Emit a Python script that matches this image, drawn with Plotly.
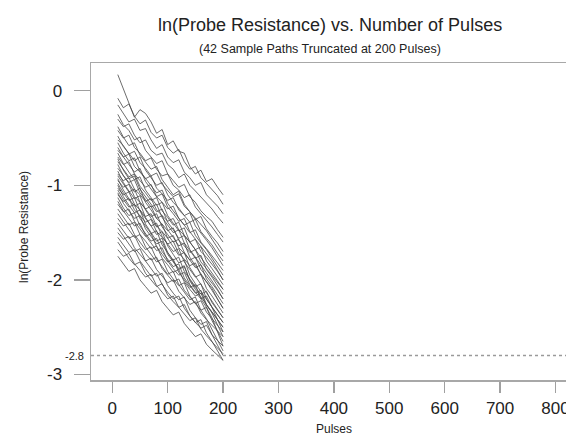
import plotly.graph_objects as go

pulses = [10, 20, 30, 40, 50, 60, 70, 80, 90, 100, 110, 120, 130, 140, 150, 160, 170, 180, 190, 200]

paths = [
    [0.17, 0.02, -0.12, -0.28, -0.20, -0.24, -0.33, -0.45, -0.41, -0.57, -0.53, -0.64, -0.66, -0.80, -0.88, -0.84, -0.96, -0.93, -1.02, -1.10],
    [-0.08, -0.18, -0.14, -0.27, -0.35, -0.31, -0.44, -0.50, -0.47, -0.60, -0.66, -0.62, -0.75, -0.83, -0.80, -0.92, -0.98, -1.05, -1.11, -1.20],
    [-0.15, -0.24, -0.33, -0.30, -0.42, -0.40, -0.52, -0.61, -0.57, -0.70, -0.76, -0.73, -0.86, -0.92, -1.00, -0.97, -1.10, -1.16, -1.22, -1.30],
    [-0.25, -0.36, -0.42, -0.52, -0.49, -0.63, -0.70, -0.77, -0.74, -0.88, -0.95, -1.02, -0.99, -1.12, -1.18, -1.27, -1.33, -1.38, -1.47, -1.55],
    [-0.30, -0.38, -0.35, -0.47, -0.55, -0.52, -0.63, -0.68, -0.66, -0.78, -0.83, -0.92, -0.88, -1.00, -1.06, -1.12, -1.18, -1.25, -1.33, -1.40],
    [-0.38, -0.49, -0.58, -0.55, -0.68, -0.76, -0.83, -0.80, -0.94, -1.02, -1.10, -1.06, -1.20, -1.28, -1.35, -1.42, -1.48, -1.57, -1.66, -1.75],
    [-0.42, -0.50, -0.47, -0.60, -0.66, -0.74, -0.71, -0.83, -0.90, -0.88, -1.00, -1.05, -1.13, -1.10, -1.23, -1.30, -1.36, -1.44, -1.52, -1.60],
    [-0.48, -0.59, -0.66, -0.74, -0.70, -0.84, -0.92, -1.00, -0.97, -1.10, -1.18, -1.24, -1.32, -1.29, -1.43, -1.50, -1.58, -1.66, -1.75, -1.85],
    [-0.52, -0.58, -0.67, -0.64, -0.76, -0.82, -0.90, -0.87, -0.99, -1.05, -1.12, -1.09, -1.22, -1.28, -1.36, -1.33, -1.46, -1.54, -1.61, -1.70],
    [-0.55, -0.66, -0.74, -0.71, -0.85, -0.93, -1.01, -1.08, -1.05, -1.19, -1.27, -1.34, -1.42, -1.39, -1.53, -1.61, -1.68, -1.77, -1.86, -1.95],
    [-0.60, -0.70, -0.78, -0.86, -0.82, -0.96, -1.04, -1.12, -1.09, -1.23, -1.30, -1.38, -1.35, -1.49, -1.57, -1.65, -1.73, -1.80, -1.90, -2.00],
    [-0.63, -0.70, -0.67, -0.80, -0.86, -0.93, -0.90, -1.03, -1.09, -1.16, -1.13, -1.26, -1.32, -1.39, -1.36, -1.49, -1.56, -1.63, -1.72, -1.80],
    [-0.66, -0.77, -0.86, -0.94, -0.91, -1.05, -1.13, -1.21, -1.18, -1.32, -1.40, -1.48, -1.45, -1.60, -1.68, -1.76, -1.84, -1.92, -2.01, -2.10],
    [-0.70, -0.78, -0.75, -0.88, -0.95, -1.02, -0.99, -1.12, -1.18, -1.25, -1.22, -1.35, -1.42, -1.50, -1.47, -1.60, -1.67, -1.74, -1.82, -1.90],
    [-0.72, -0.84, -0.93, -0.90, -1.04, -1.12, -1.20, -1.28, -1.25, -1.39, -1.47, -1.56, -1.53, -1.68, -1.76, -1.84, -1.93, -2.01, -2.10, -2.20],
    [-0.75, -0.83, -0.91, -0.88, -1.01, -1.08, -1.16, -1.13, -1.27, -1.34, -1.42, -1.39, -1.53, -1.60, -1.68, -1.65, -1.80, -1.88, -1.96, -2.05],
    [-0.78, -0.90, -0.98, -1.07, -1.03, -1.18, -1.26, -1.35, -1.32, -1.47, -1.55, -1.64, -1.61, -1.76, -1.85, -1.93, -2.02, -2.11, -2.20, -2.30],
    [-0.82, -0.89, -0.97, -0.94, -1.08, -1.15, -1.23, -1.20, -1.34, -1.42, -1.50, -1.47, -1.61, -1.69, -1.77, -1.74, -1.89, -1.97, -2.06, -2.15],
    [-0.85, -0.97, -1.06, -1.14, -1.11, -1.26, -1.35, -1.44, -1.41, -1.56, -1.65, -1.74, -1.71, -1.87, -1.96, -2.05, -2.13, -2.22, -2.31, -2.40],
    [-0.88, -0.95, -0.92, -1.04, -1.10, -1.17, -1.14, -1.26, -1.32, -1.38, -1.35, -1.47, -1.53, -1.60, -1.57, -1.70, -1.76, -1.83, -1.91, -2.00],
    [-0.90, -0.99, -1.07, -1.04, -1.18, -1.25, -1.33, -1.30, -1.44, -1.52, -1.60, -1.57, -1.71, -1.79, -1.87, -1.84, -1.99, -2.07, -2.16, -2.25],
    [-0.93, -1.05, -1.14, -1.22, -1.19, -1.34, -1.43, -1.52, -1.49, -1.64, -1.73, -1.82, -1.79, -1.95, -2.04, -2.12, -2.20, -2.28, -2.37, -2.45],
    [-0.95, -1.02, -0.99, -1.12, -1.18, -1.25, -1.22, -1.35, -1.41, -1.48, -1.45, -1.58, -1.64, -1.71, -1.68, -1.81, -1.88, -1.95, -2.02, -2.10],
    [-0.98, -1.08, -1.16, -1.13, -1.27, -1.35, -1.43, -1.40, -1.54, -1.62, -1.70, -1.67, -1.81, -1.89, -1.97, -1.94, -2.09, -2.17, -2.26, -2.35],
    [-1.00, -1.12, -1.21, -1.29, -1.26, -1.41, -1.50, -1.59, -1.56, -1.71, -1.80, -1.88, -1.85, -2.01, -2.10, -2.18, -2.26, -2.34, -2.42, -2.50],
    [-1.03, -1.10, -1.07, -1.20, -1.26, -1.33, -1.30, -1.43, -1.49, -1.56, -1.53, -1.66, -1.72, -1.79, -1.76, -1.89, -1.96, -2.03, -2.11, -2.20],
    [-1.05, -1.15, -1.23, -1.20, -1.35, -1.43, -1.51, -1.48, -1.63, -1.71, -1.79, -1.76, -1.91, -1.99, -2.07, -2.04, -2.20, -2.29, -2.42, -2.55],
    [-1.08, -1.19, -1.27, -1.35, -1.32, -1.46, -1.54, -1.62, -1.59, -1.73, -1.81, -1.89, -1.86, -2.00, -2.08, -2.15, -2.12, -2.24, -2.32, -2.40],
    [-1.10, -1.17, -1.14, -1.26, -1.32, -1.39, -1.36, -1.49, -1.55, -1.62, -1.59, -1.72, -1.78, -1.85, -1.82, -1.95, -2.02, -2.09, -2.20, -2.30],
    [-1.13, -1.24, -1.32, -1.29, -1.43, -1.51, -1.59, -1.56, -1.70, -1.78, -1.86, -1.83, -1.98, -2.06, -2.14, -2.11, -2.26, -2.35, -2.47, -2.60],
    [-1.17, -1.27, -1.35, -1.43, -1.40, -1.53, -1.61, -1.69, -1.66, -1.80, -1.88, -1.95, -1.92, -2.05, -2.13, -2.20, -2.17, -2.29, -2.37, -2.45],
    [-1.20, -1.28, -1.25, -1.38, -1.46, -1.54, -1.51, -1.65, -1.73, -1.81, -1.78, -1.92, -2.00, -2.08, -2.05, -2.20, -2.29, -2.40, -2.55, -2.70],
    [-1.25, -1.34, -1.42, -1.39, -1.52, -1.59, -1.67, -1.64, -1.77, -1.84, -1.92, -1.89, -2.02, -2.10, -2.17, -2.14, -2.27, -2.34, -2.42, -2.50],
    [-1.30, -1.39, -1.47, -1.55, -1.52, -1.65, -1.73, -1.81, -1.78, -1.91, -1.99, -2.06, -2.03, -2.17, -2.25, -2.32, -2.29, -2.43, -2.54, -2.65],
    [-1.35, -1.43, -1.40, -1.52, -1.60, -1.68, -1.65, -1.78, -1.86, -1.94, -1.91, -2.05, -2.13, -2.21, -2.18, -2.32, -2.41, -2.52, -2.63, -2.75],
    [-1.40, -1.48, -1.56, -1.53, -1.65, -1.72, -1.79, -1.76, -1.88, -1.95, -2.02, -1.99, -2.11, -2.18, -2.25, -2.22, -2.34, -2.41, -2.48, -2.55],
    [-1.45, -1.54, -1.62, -1.70, -1.67, -1.80, -1.88, -1.96, -1.93, -2.06, -2.14, -2.21, -2.18, -2.32, -2.40, -2.47, -2.44, -2.58, -2.69, -2.80],
    [-1.50, -1.57, -1.54, -1.66, -1.73, -1.80, -1.77, -1.89, -1.96, -2.03, -2.00, -2.12, -2.19, -2.26, -2.23, -2.35, -2.42, -2.48, -2.54, -2.60],
    [-1.55, -1.63, -1.71, -1.68, -1.80, -1.88, -1.96, -1.93, -2.05, -2.13, -2.20, -2.17, -2.30, -2.38, -2.45, -2.42, -2.56, -2.65, -2.75, -2.85],
    [-1.60, -1.69, -1.77, -1.84, -1.81, -1.93, -2.00, -2.07, -2.04, -2.16, -2.23, -2.29, -2.26, -2.38, -2.45, -2.51, -2.48, -2.58, -2.64, -2.70],
    [-1.68, -1.75, -1.72, -1.83, -1.90, -1.97, -1.94, -2.06, -2.13, -2.20, -2.17, -2.29, -2.36, -2.43, -2.40, -2.52, -2.59, -2.66, -2.72, -2.78],
    [-1.75, -1.83, -1.91, -1.88, -2.00, -2.07, -2.14, -2.11, -2.23, -2.30, -2.37, -2.34, -2.46, -2.53, -2.60, -2.57, -2.68, -2.74, -2.80, -2.85],
]

x_ticks = [0, 100, 200, 300, 400, 500, 600, 700, 800]
y_ticks = [0, -1, -2, -3]
threshold = -2.8

title_text = "ln(Probe Resistance) vs. Number of Pulses"
subtitle_text = "(42 Sample Paths Truncated at 200 Pulses)"
x_title = "Pulses"
y_title = "ln(Probe Resistance)"

FONT = "Liberation Sans, Arial, Helvetica, sans-serif"

fig = go.Figure()
for p in paths:
    fig.add_trace(go.Scatter(x=pulses, y=p, mode="lines",
                             line=dict(color="#484848", width=0.8),
                             showlegend=False, hoverinfo="skip"))

fig.add_shape(type="line", xref="paper", yref="y", x0=0, x1=1,
              y0=threshold, y1=threshold,
              line=dict(color="#9a9a9a", width=1.5, dash="dot"))

fig.update_layout(
    width=566, height=434,
    margin=dict(l=91, r=0, t=63, b=54, autoexpand=False),
    paper_bgcolor="white", plot_bgcolor="white",
    font=dict(family=FONT, color="#222222"),
    showlegend=False,
    xaxis=dict(range=[-38.4, 819], tickvals=x_ticks,
               ticktext=[str(v) for v in x_ticks],
               showgrid=False, zeroline=False, automargin=False,
               showline=True, linecolor="#a8a8a8", linewidth=1.5, mirror=True,
               ticks="outside", ticklen=11, tickwidth=1.5, tickcolor="#a0a0a0",
               tickfont=dict(size=17, color="#222222"),
               ticklabelstandoff=1, ticklabeloverflow="allow"),
    yaxis=dict(range=[-3.058, 0.293], tickvals=y_ticks,
               ticktext=[str(v) for v in y_ticks],
               showgrid=False, zeroline=False, automargin=False,
               showline=True, linecolor="#a8a8a8", linewidth=1.5, mirror=False,
               ticks="outside", ticklen=16, tickwidth=1.5, tickcolor="#a0a0a0",
               tickfont=dict(size=17, color="#222222"),
               ticklabelstandoff=8, ticklabeloverflow="allow"),
)

fig.add_annotation(text=title_text, xref="paper", yref="paper",
                   x=(330 - 91) / 475, y=1 + (63 - 25) / 317,
                   xanchor="center", yanchor="middle", showarrow=False,
                   font=dict(size=18, family=FONT, color="#222222"))
fig.add_annotation(text=subtitle_text, xref="paper", yref="paper",
                   x=(320 - 91) / 475, y=1 + (63 - 49) / 317,
                   xanchor="center", yanchor="middle", showarrow=False,
                   font=dict(size=12.5, family=FONT, color="#222222"))
fig.add_annotation(text=y_title, xref="paper", yref="paper",
                   x=-(91 - 24) / 475, y=1 - (227 - 63) / 317,
                   xanchor="center", yanchor="middle", textangle=-90,
                   showarrow=False,
                   font=dict(size=12, family=FONT, color="#222222"))
fig.add_annotation(text=x_title, xref="x", yref="paper",
                   x=400, y=-(420 - 380) / 317,
                   xanchor="center", yanchor="top", showarrow=False,
                   font=dict(size=12, family=FONT, color="#222222"))
fig.add_annotation(text=str(threshold), xref="paper", yref="y",
                   x=0, y=threshold, xanchor="right", yanchor="middle",
                   xshift=-5, showarrow=False,
                   font=dict(size=11, family=FONT, color="#222222"))

fig.write_html(
    "out.html",
    config={"displayModeBar": False, "staticPlot": True},
    post_script="document.body.style.margin='0';document.body.style.overflow='hidden';"
                "document.documentElement.style.overflow='hidden';",
)
